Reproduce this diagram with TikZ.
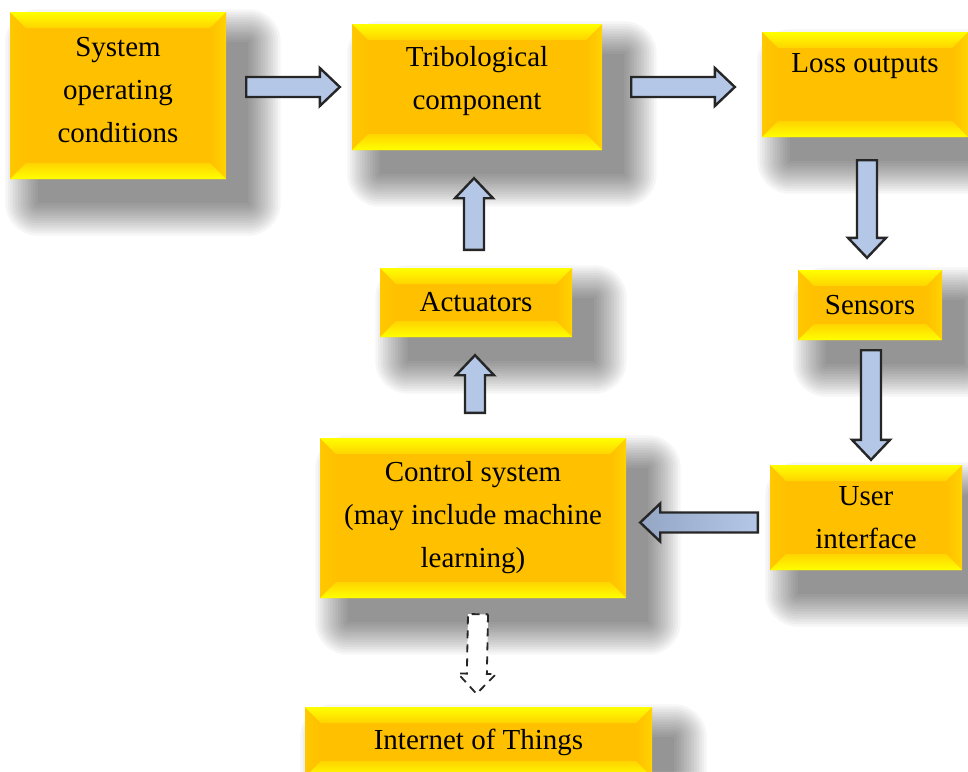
\documentclass[tikz,border=0pt]{standalone}
\usepackage{fontspec}
\setmainfont{Liberation Serif}
\usetikzlibrary{calc,backgrounds}

\definecolor{boxinner}{HTML}{FFC000}
\definecolor{boxtop}{HTML}{FFFF00}
\definecolor{boxmid}{HTML}{FFD400}
\definecolor{boxside}{HTML}{FFC800}
\definecolor{arrowblue}{HTML}{B4C7E7}
\definecolor{arrowdark}{HTML}{94A6C4}

\newcommand{\bev}{16pt}
% block arrow from #2 to #3
\newcommand{\blockarrow}[3][]{%
  \coordinate (ba-n) at ($(#3)!20pt!(#2)$);
  \draw[arrowline,#1] ($(#2)!10pt!90:(#3)$) -- ($(ba-n)!10pt!90:(#3)$) -- ($(ba-n)!19pt!90:(#3)$) -- (#3)
    -- ($(ba-n)!19pt!-90:(#3)$) -- ($(ba-n)!10pt!-90:(#3)$) -- ($(#2)!10pt!-90:(#3)$) -- cycle;}

\tikzset{
  tribbox/.style={fill=boxinner, inner sep=4pt, align=center,
    font=\fontsize{29}{43}\selectfont,
    path picture={
      \coordinate (pp-sw) at (path picture bounding box.south west);
      \coordinate (pp-se) at (path picture bounding box.south east);
      \coordinate (pp-nw) at (path picture bounding box.north west);
      \coordinate (pp-ne) at (path picture bounding box.north east);
      % left and right bevel
      \fill[left color=boxside, right color=boxinner] (pp-nw) -- ($(pp-nw)+(\bev,-\bev)$) -- ($(pp-sw)+(\bev,\bev)$) -- (pp-sw) -- cycle;
      \fill[left color=boxinner, right color=boxside!80!boxtop] (pp-ne) -- ($(pp-ne)+(-\bev,-\bev)$) -- ($(pp-se)+(-\bev,\bev)$) -- (pp-se) -- cycle;
      % top and bottom bevel
      \fill[top color=boxtop, bottom color=boxmid] (pp-nw) -- (pp-ne) -- ($(pp-ne)+(-\bev,-\bev)$) -- ($(pp-nw)+(\bev,-\bev)$) -- cycle;
      \fill[bottom color=boxtop, top color=boxmid] (pp-sw) -- (pp-se) -- ($(pp-se)+(-\bev,\bev)$) -- ($(pp-sw)+(\bev,\bev)$) -- cycle;
    }},
  shadowlayer/.style={fill=black, opacity=0.036},
  arrowline/.style={draw=black!85, line width=2.4pt, line join=miter, fill=arrowblue},
  dashedarrow/.style={fill=white, dash pattern=on 8pt off 6pt, line width=1.8pt}
}

\begin{document}
\begin{tikzpicture}[x=1pt,y=-1pt]
  \useasboundingbox (0,0) rectangle (968,771);
  % Boxes
  \node[tribbox, minimum width=216pt, minimum height=167pt, text depth=12pt] (sys) at (118,95.5) {System\\operating\\conditions};
  \node[tribbox, minimum width=250pt, minimum height=126pt, text depth=18pt] (tri) at (477,87) {Tribological\\component};
  \node[tribbox, minimum width=206pt, minimum height=105pt, text depth=43pt] (loss) at (865,84.5) {Loss outputs};
  \node[tribbox, minimum width=144pt, minimum height=70pt] (sen) at (870,305) {Sensors};
  \node[tribbox, minimum width=192pt, minimum height=69pt] (act) at (476,302.5) {Actuators};
  \node[tribbox, minimum width=192pt, minimum height=105pt] (ui) at (866,517.5) {User\\interface};
  \node[tribbox, minimum width=306pt, minimum height=160pt] (ctl) at (473,518) {Control system\\(may include machine\\learning)};
  \node[tribbox, minimum width=347pt, minimum height=70pt] (iot) at (478.5,742) {Internet of Things};
  % Shadows
  \begin{scope}[on background layer]
    \fill[white] (0,0) rectangle (968,771);
    \foreach \b in {sys,tri,loss,sen,act,ui,ctl,iot}
      \foreach \i in {0,...,13}
        \fill[shadowlayer, rounded corners=2.5*\i] ($(\b.north west)+(28-2.5*\i,30-2.5*\i)$) rectangle ($(\b.south east)+(22+2.5*\i,24+2.5*\i)$);
  \end{scope}
  % Arrow ends
  \coordinate (a1s) at ($(sys.east |- tri.west)+(20,0)$);
  \coordinate (a1t) at ($(tri.west)+(-12,0)$);
  \coordinate (a2s) at ($(tri.east)+(29,0)$);
  \coordinate (a2t) at ($(tri.east -| loss.west)+(-27,0)$);
  \coordinate (a3s) at ($(loss.south -| sen.north)+(-3,23)$);
  \coordinate (a3t) at ($(sen.north)+(-3,-12)$);
  \coordinate (a4s) at ($(sen.south)+(1,10)$);
  \coordinate (a4t) at ($(ui.north)+(5,-5)$);
  \coordinate (a5s) at ($(ui.west)+(-12,5)$);
  \coordinate (a5t) at ($(ctl.east)+(14,4.5)$);
  \coordinate (a6s) at ($(ctl.north)+(2,-25)$);
  \coordinate (a6t) at ($(act.south)+(-1,18)$);
  \coordinate (a7s) at ($(act.north)+(-2,-18)$);
  \coordinate (a7t) at ($(tri.south)+(-3,28)$);
  \coordinate (a8s) at ($(ctl.south)+(5,16)$);
  \coordinate (a8t) at ($(iot.north)+(-2,-13)$);
  % Arrows
  \blockarrow{a1s}{a1t}
  \blockarrow{a2s}{a2t}
  \blockarrow{a3s}{a3t}
  \blockarrow{a4s}{a4t}
  \blockarrow[left color=arrowdark, middle color=arrowblue, right color=arrowblue]{a5s}{a5t}
  \blockarrow{a6s}{a6t}
  \blockarrow{a7s}{a7t}
  \blockarrow[dashedarrow]{a8s}{a8t}
\end{tikzpicture}
\end{document}
